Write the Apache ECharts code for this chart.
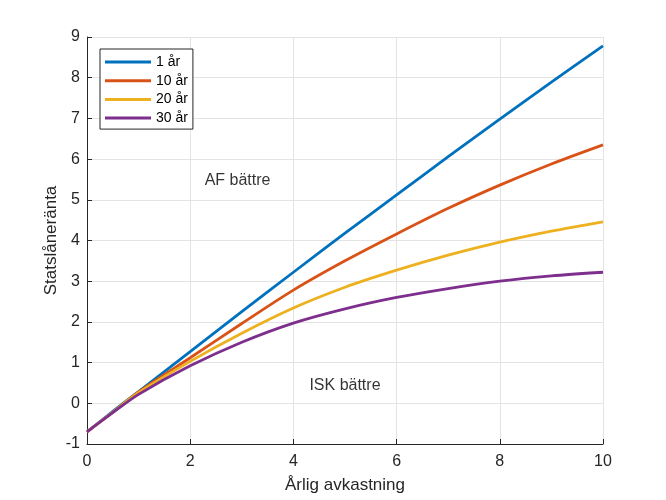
<!DOCTYPE html>
<html>
<head>
<meta charset="utf-8">
<script src="https://cdn.jsdelivr.net/npm/echarts@6/dist/echarts.min.js"></script>
<style>
  html, body { margin: 0; padding: 0; background: #fff; }
  #chart { width: 666px; height: 500px; }
</style>
</head>
<body>
<div id="chart"></div>
<script>
// avkastning (x) och break-even statslåneränta per innehavstid
var xs = [0, 0.5, 1, 2, 3, 4, 5, 6, 7, 8, 9, 10]
var names = ['1 år', '10 år', '20 år', '30 år']
var ar1 = [-0.70, -0.20, 0.29, 1.27, 2.25, 3.22, 4.18, 5.12, 6.06, 6.98, 7.89, 8.78]
var ar10 = [-0.70, -0.22, 0.28, 1.12, 1.96, 2.78, 3.50, 4.16, 4.79, 5.36, 5.88, 6.35]
var ar20 = [-0.70, -0.22, 0.26, 1.03, 1.72, 2.34, 2.85, 3.27, 3.64, 3.96, 4.23, 4.46]
var ar30 = [-0.70, -0.23, 0.22, 0.92, 1.50, 1.97, 2.32, 2.60, 2.82, 3.00, 3.13, 3.22]
var colors = ['#0072BD', '#D95319', '#EDB120', '#7E2F8E']

// texter i diagrammet
var annoText = ['AF bättre', 'ISK bättre']
var annoX = [2.28, 4.31]
var annoY = [5.46, 0.44]

var font = 'Liberation Sans, Arial, Helvetica, sans-serif'
var axisCol = '#262626'

function pairs (ys) {
  return xs.map(function (x, i) { return [x, ys[i]] })
}

var lineData = [ar1, ar10, ar20, ar30]
var series = lineData.map(function (ys, i) {
  return {
    name: names[i],
    type: 'line',
    data: pairs(ys),
    smooth: 0.3,
    showSymbol: false,
    lineStyle: { width: 2.8, color: colors[i] },
    itemStyle: { color: colors[i] },
    z: 3
  }
})

series.push({
  name: 'text',
  type: 'scatter',
  symbolSize: 0,
  silent: true,
  data: annoText.map(function (t, i) { return { name: t, value: [annoX[i], annoY[i]] } }),
  label: {
    show: true,
    position: 'right',
    distance: 0,
    formatter: '{b}',
    color: '#000',
    fontSize: 16,
    fontFamily: font
  }
})

var chart = echarts.init(document.getElementById('chart'), null, { renderer: 'canvas' })
chart.setOption({
  animation: false,
  backgroundColor: '#fff',
  color: colors,
  grid: { left: 87, right: 63, top: 37, bottom: 56, containLabel: false },
  legend: {
    data: names,
    orient: 'vertical',
    left: 100,
    top: 49,
    icon: 'rect',
    itemWidth: 46,
    itemHeight: 3,
    itemGap: 2.7,
    padding: [5, 5, 3, 5],
    backgroundColor: '#fff',
    borderColor: axisCol,
    borderWidth: 1,
    borderRadius: 0,
    textStyle: { fontSize: 14, lineHeight: 16, color: '#000', fontFamily: font }
  },
  xAxis: {
    type: 'value',
    min: 0,
    max: 10,
    interval: 2,
    name: 'Årlig avkastning',
    nameLocation: 'middle',
    nameGap: 33,
    nameMoveOverlap: false,
    nameTextStyle: { fontSize: 17, color: axisCol, fontFamily: font },
    axisLine: { show: true, onZero: false, lineStyle: { color: axisCol, width: 1 } },
    axisTick: { show: true, inside: true, length: 5, lineStyle: { color: axisCol } },
    axisLabel: { fontSize: 16, color: axisCol, margin: 10, fontFamily: font },
    splitLine: { show: true, lineStyle: { color: '#e3e3e3', width: 1 } }
  },
  yAxis: {
    type: 'value',
    min: -1,
    max: 9,
    interval: 1,
    name: 'Statslåneränta',
    nameLocation: 'middle',
    nameGap: 27,
    nameMoveOverlap: false,
    nameTextStyle: { fontSize: 17, color: axisCol, fontFamily: font },
    axisLine: { show: true, onZero: false, lineStyle: { color: axisCol, width: 1 } },
    axisTick: { show: true, inside: true, length: 5, lineStyle: { color: axisCol } },
    axisLabel: { fontSize: 16, color: axisCol, margin: 7, fontFamily: font },
    splitLine: { show: true, lineStyle: { color: '#e3e3e3', width: 1 } }
  },
  series: series
})
</script>
</body>
</html>
